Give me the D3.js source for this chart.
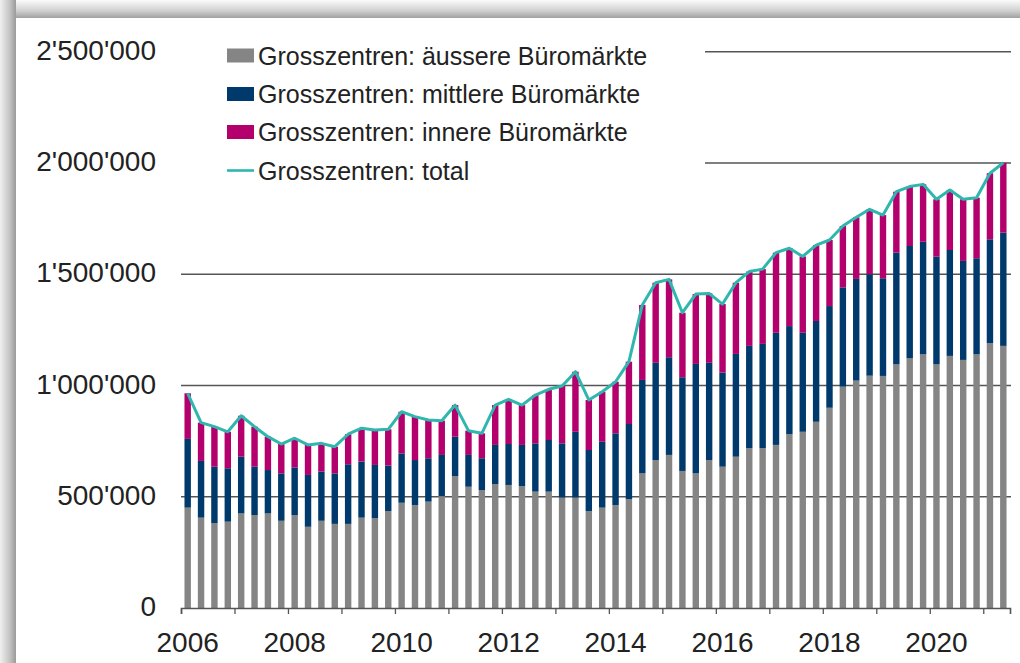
<!DOCTYPE html>
<html>
<head>
<meta charset="utf-8">
<script src="https://cdn.jsdelivr.net/npm/d3@7"></script>
<style>
  html, body { margin: 0; padding: 0; background: #ffffff; }
  svg { display: block; }
  text { font-family: "Liberation Sans", Arial, Helvetica, sans-serif; fill: #222; }
</style>
</head>
<body>
<svg id="chart" width="1020" height="663"></svg>
<script>
// ---- Data (values in m², quarterly 2006 Q1 – 2021 Q2) ----
const years = d3.range(2006, 2022);
const quarters = [];
years.forEach(y => [1,2,3,4].forEach(q => { if (quarters.length < 62) quarters.push(y + "Q" + q); }));

const aeussere = [451000,406000,381000,388000,425000,418000,425000,392000,418000,365000,392000,378000,
  378000,406000,403000,436000,473000,463000,478000,503000,593000,545000,530000,557000,
  553000,548000,523000,523000,496000,496000,436000,451000,463000,489000,605000,665000,
  688000,616000,605000,665000,635000,680000,718000,718000,733000,782000,792000,837000,
  900000,995000,1022000,1044000,1043000,1095000,1122000,1140000,1095000,1133000,1115000,1140000,
  1190000,1178000];
const mittlere = [309000,255000,254000,240000,255000,217000,195000,213000,214000,233000,221000,227000,
  268000,252000,240000,204000,222000,202000,195000,185000,177000,143000,143000,176000,
  184000,185000,217000,232000,244000,296000,274000,296000,322000,338000,420000,437000,
  439000,421000,492000,437000,423000,462000,460000,469000,504000,485000,445000,453000,
  457000,446000,457000,456000,439000,502000,505000,506000,484000,476000,445000,432000,
  467000,509000];
const innere = [205000,172000,180000,164000,184000,180000,150000,132000,131000,135000,127000,120000,
  135000,150000,157000,163000,187000,195000,172000,154000,142000,109000,112000,179000,
  201000,179000,217000,228000,258000,270000,225000,225000,232000,280000,337000,360000,
  350000,290000,314000,312000,308000,320000,334000,336000,360000,350000,343000,341000,
  297000,276000,277000,292000,284000,274000,267000,258000,258000,270000,277000,272000,
  297000,314000];

const seriesNames = ["Grosszentren: äussere Büromärkte", "Grosszentren: mittlere Büromärkte",
  "Grosszentren: innere Büromärkte", "Grosszentren: total"];
const seriesColors = ["#858585", "#003a6c", "#b3006c", "#2fb6ae"];
const yTicks = [0, 500000, 1000000, 1500000, 2000000, 2500000];
const xLabelYears = [2006, 2008, 2010, 2012, 2014, 2016, 2018, 2020];

// ---- Build table ----
const table = quarters.map((q, i) => ({
  q, aeussere: aeussere[i], mittlere: mittlere[i], innere: innere[i],
  total: aeussere[i] + mittlere[i] + innere[i]
}));

const svg = d3.select("#chart");
const W = 1020, H = 663;

// ---- Frame / shadow ----
const defs = svg.append("defs");
const gTop = defs.append("linearGradient").attr("id", "shTop").attr("x1", 0).attr("y1", 0).attr("x2", 0).attr("y2", 1);
gTop.append("stop").attr("offset", "0%").attr("stop-color", "#fbfbfb");
gTop.append("stop").attr("offset", "60%").attr("stop-color", "#d0d0d0");
gTop.append("stop").attr("offset", "100%").attr("stop-color", "#a0a0a0");
const gLeft = defs.append("linearGradient").attr("id", "shLeft").attr("x1", 0).attr("y1", 0).attr("x2", 1).attr("y2", 0);
gLeft.append("stop").attr("offset", "0%").attr("stop-color", "#f0f0f0");
gLeft.append("stop").attr("offset", "60%").attr("stop-color", "#c4c4c4");
gLeft.append("stop").attr("offset", "100%").attr("stop-color", "#9a9a9a");

svg.append("rect").attr("x", 0).attr("y", 0).attr("width", W).attr("height", 18).attr("fill", "url(#shTop)");
svg.append("rect").attr("x", 0).attr("y", 0).attr("width", 16).attr("height", H).attr("fill", "url(#shLeft)");
svg.append("rect").attr("x", 16).attr("y", 18).attr("width", W - 16).attr("height", H - 18).attr("fill", "#ffffff");

// ---- Scales ----
const x0 = 181, x1 = 1010, yBase = 608;
const x = d3.scaleBand().domain(quarters).range([x0, x1]).paddingInner(0.52).paddingOuter(0.26);
const xYear = d3.scaleLinear().domain([2006, 2021.5]).range([x0, x1]);
const y = d3.scaleLinear().domain([0, 2500000]).range([yBase, 51.75]);

// ---- Grid lines ----
svg.append("g").selectAll("line").data(yTicks.filter(d => d > 0)).join("line")
  .attr("x1", x0).attr("x2", x1 + 1)
  .attr("y1", d => y(d)).attr("y2", d => y(d))
  .attr("stroke", "#555").attr("stroke-width", 1.6);

// ---- Y labels ----
const fmt = d => d3.format(",")(d).replace(/,/g, "'");
svg.append("g").selectAll("text").data(yTicks).join("text")
  .attr("x", 156).attr("y", d => y(d) - 2)
  .attr("dy", "0.36em")
  .attr("text-anchor", "end")
  .style("font-size", "28px")
  .text(fmt);

// ---- Stacked bars ----
const keys = ["aeussere", "mittlere", "innere"];
const stack = d3.stack().keys(keys)(table);
svg.append("g").selectAll("g").data(stack).join("g")
  .attr("fill", (d, i) => seriesColors[i])
  .selectAll("rect").data(d => d).join("rect")
  .attr("x", d => x(d.data.q))
  .attr("width", x.bandwidth())
  .attr("y", d => y(d[1]))
  .attr("height", d => y(d[0]) - y(d[1]));

// ---- Total line ----
svg.append("path").datum(table)
  .attr("fill", "none")
  .attr("stroke", seriesColors[3])
  .attr("stroke-width", 3)
  .attr("stroke-linejoin", "round")
  .attr("d", d3.line().x(d => x(d.q) + x.bandwidth() / 2).y(d => y(d.total)));

// ---- X axis ----
const xAxis = d3.axisBottom(xYear).tickValues(years).tickSize(6).tickFormat("");
const ax = svg.append("g").attr("transform", `translate(0,${yBase})`).call(xAxis);
ax.select(".domain").attr("stroke", "#555").attr("stroke-width", 1.6);
ax.selectAll(".tick line").attr("stroke", "#555").attr("stroke-width", 1.3);

svg.append("g").selectAll("text").data(xLabelYears).join("text")
  .attr("x", d => xYear(d + 0.125))
  .attr("y", 652)
  .attr("text-anchor", "middle")
  .style("font-size", "28px")
  .text(d => d);

// ---- Legend ----
const lg = svg.append("g");
lg.append("rect").attr("x", 170).attr("y", 30).attr("width", 535).attr("height", 160).attr("fill", "#fff");
const rowY = [55.5, 94, 132, 170.5];
seriesNames.forEach((name, i) => {
  if (i < 3) {
    lg.append("rect").attr("x", 227).attr("y", rowY[i] - 7).attr("width", 27).attr("height", 14)
      .attr("fill", seriesColors[i]);
  } else {
    lg.append("line").attr("x1", 227).attr("x2", 254).attr("y1", rowY[i]).attr("y2", rowY[i])
      .attr("stroke", seriesColors[i]).attr("stroke-width", 2.6);
  }
  lg.append("text").attr("x", 258).attr("y", rowY[i] + 9)
    .style("font-size", "25px").text(name);
});
</script>
</body>
</html>
